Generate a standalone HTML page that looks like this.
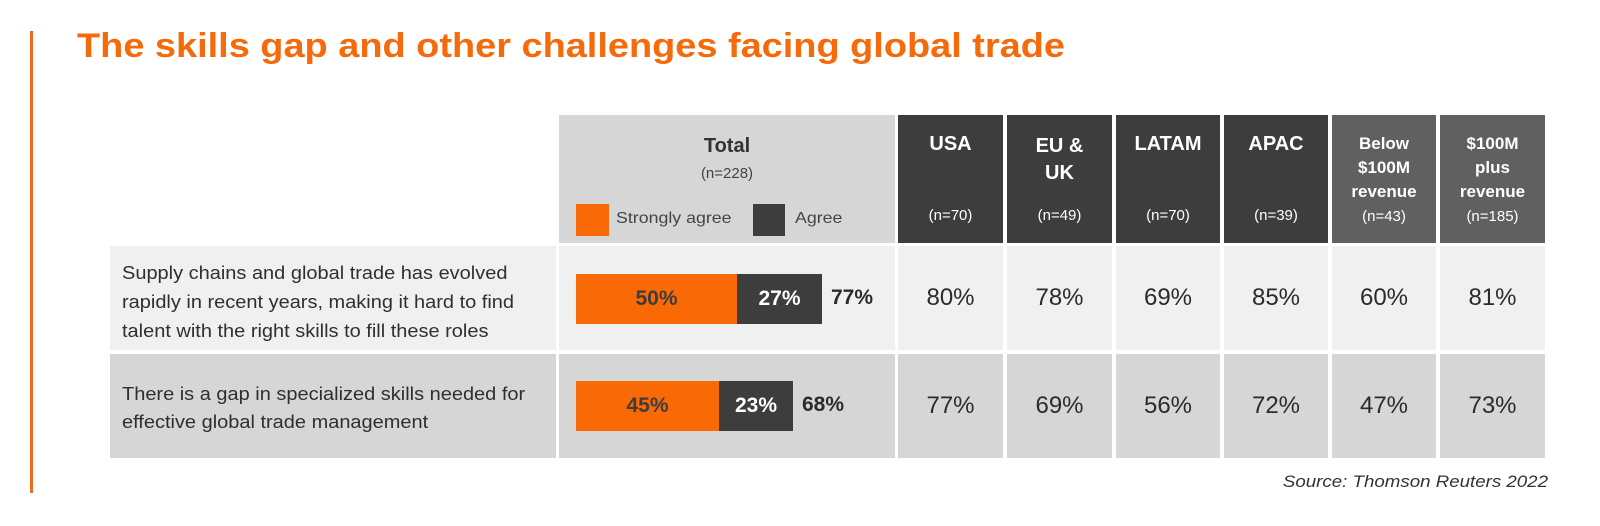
<!DOCTYPE html>
<html><head><meta charset="utf-8"><style>
*{margin:0;padding:0;box-sizing:border-box}
body{width:1600px;height:526px;background:#fff;position:relative;overflow:hidden;font-family:"Liberation Sans",sans-serif;color:#333}
.a{position:absolute}
.c{position:absolute;display:flex;align-items:center;justify-content:center;text-align:center}
.h{color:#fff;font-weight:bold}
.v{font-size:24px;color:#2b2b2b}
.n{position:absolute;left:0;right:0;text-align:center;font-size:15px;font-weight:normal}
.sx{display:inline-block;transform:scaleX(1.11);transform-origin:left center;white-space:nowrap}
</style></head><body>
<div class="a" style="left:30px;top:31px;width:3px;height:462px;background:#f26a1b"></div>
<div class="a" style="left:77px;top:27px;font-size:34px;font-weight:bold;color:#f56a0a;white-space:nowrap;transform:scaleX(1.115);transform-origin:left center">The skills gap and other challenges facing global trade</div>

<!-- header -->
<div class="a" style="left:559px;top:115px;width:336px;height:128px;background:#d6d6d6">
  <div class="a" style="left:0;right:0;top:20px;text-align:center;font-size:20px;font-weight:bold">Total</div>
  <div class="a" style="left:0;right:0;top:50px;text-align:center;font-size:15px;color:#444">(n=228)</div>
  <div class="a" style="left:17px;top:89px;width:33px;height:32px;background:#f96a06"></div>
  <div class="a sx" style="left:57px;top:95px;font-size:16px;color:#444">Strongly agree</div>
  <div class="a" style="left:194px;top:89px;width:32px;height:32px;background:#3d3d3d"></div>
  <div class="a sx" style="left:236px;top:95px;font-size:16px;color:#444">Agree</div>
</div>
<div class="a h" style="left:898px;top:115px;width:105px;height:128px;background:#3d3d3d"><div class="n" style="top:18px;font-size:20px;font-weight:bold">USA</div><div class="n" style="top:92px">(n=70)</div></div>
<div class="a h" style="left:1007px;top:115px;width:105px;height:128px;background:#3d3d3d"><div class="n" style="top:18px;font-size:20px;font-weight:bold;line-height:27px">EU &amp;<br>UK</div><div class="n" style="top:92px">(n=49)</div></div>
<div class="a h" style="left:1116px;top:115px;width:104px;height:128px;background:#3d3d3d"><div class="n" style="top:18px;font-size:20px;font-weight:bold">LATAM</div><div class="n" style="top:92px">(n=70)</div></div>
<div class="a h" style="left:1224px;top:115px;width:104px;height:128px;background:#3d3d3d"><div class="n" style="top:18px;font-size:20px;font-weight:bold">APAC</div><div class="n" style="top:92px">(n=39)</div></div>
<div class="a h" style="left:1332px;top:115px;width:104px;height:128px;background:#606060"><div class="n" style="top:17px;font-size:17px;font-weight:bold;line-height:24px">Below<br>$100M<br>revenue</div><div class="n" style="top:93px">(n=43)</div></div>
<div class="a h" style="left:1440px;top:115px;width:105px;height:128px;background:#606060"><div class="n" style="top:17px;font-size:17px;font-weight:bold;line-height:24px">$100M<br>plus<br>revenue</div><div class="n" style="top:93px">(n=185)</div></div>

<!-- row 1 -->
<div class="a" style="left:110px;top:246px;width:446px;height:104px;background:#f0f0f0;padding:13px 0 0 12px;font-size:18px;line-height:29px;color:#2f2f2f"><span class="sx">Supply chains and global trade has evolved</span><br><span class="sx">rapidly in recent years, making it hard to find</span><br><span class="sx">talent with the right skills to fill these roles</span></div>
<div class="a" style="left:559px;top:246px;width:336px;height:104px;background:#f0f0f0"></div>
<div class="c" style="left:576px;top:274px;width:161px;height:50px;background:#f96a06;font-size:21px;font-weight:bold;color:#3d3d3d">50%</div>
<div class="c" style="left:737px;top:274px;width:85px;height:50px;background:#3d3d3d;font-size:21px;font-weight:bold;color:#fff">27%</div>
<div class="a" style="left:831px;top:286px;font-size:21px;font-weight:bold;color:#2b2b2b">77%</div>
<div class="c v" style="left:898px;top:246px;width:105px;height:104px;background:#f0f0f0">80%</div>
<div class="c v" style="left:1007px;top:246px;width:105px;height:104px;background:#f0f0f0">78%</div>
<div class="c v" style="left:1116px;top:246px;width:104px;height:104px;background:#f0f0f0">69%</div>
<div class="c v" style="left:1224px;top:246px;width:104px;height:104px;background:#f0f0f0">85%</div>
<div class="c v" style="left:1332px;top:246px;width:104px;height:104px;background:#f0f0f0">60%</div>
<div class="c v" style="left:1440px;top:246px;width:105px;height:104px;background:#f0f0f0">81%</div>

<!-- row 2 -->
<div class="a" style="left:110px;top:354px;width:446px;height:104px;background:#d6d6d6;padding:26px 0 0 12px;font-size:18px;line-height:28px;color:#2f2f2f"><span class="sx">There is a gap in specialized skills needed for</span><br><span class="sx">effective global trade management</span></div>
<div class="a" style="left:559px;top:354px;width:336px;height:104px;background:#d6d6d6"></div>
<div class="c" style="left:576px;top:381px;width:143px;height:50px;background:#f96a06;font-size:21px;font-weight:bold;color:#3d3d3d">45%</div>
<div class="c" style="left:719px;top:381px;width:74px;height:50px;background:#3d3d3d;font-size:21px;font-weight:bold;color:#fff">23%</div>
<div class="a" style="left:802px;top:393px;font-size:21px;font-weight:bold;color:#2b2b2b">68%</div>
<div class="c v" style="left:898px;top:354px;width:105px;height:104px;background:#d6d6d6">77%</div>
<div class="c v" style="left:1007px;top:354px;width:105px;height:104px;background:#d6d6d6">69%</div>
<div class="c v" style="left:1116px;top:354px;width:104px;height:104px;background:#d6d6d6">56%</div>
<div class="c v" style="left:1224px;top:354px;width:104px;height:104px;background:#d6d6d6">72%</div>
<div class="c v" style="left:1332px;top:354px;width:104px;height:104px;background:#d6d6d6">47%</div>
<div class="c v" style="left:1440px;top:354px;width:105px;height:104px;background:#d6d6d6">73%</div>

<div class="a" style="right:52px;top:472px;font-size:17px;font-style:italic;color:#333;white-space:nowrap;transform:scaleX(1.1);transform-origin:right center">Source: Thomson Reuters 2022</div>
</body></html>
